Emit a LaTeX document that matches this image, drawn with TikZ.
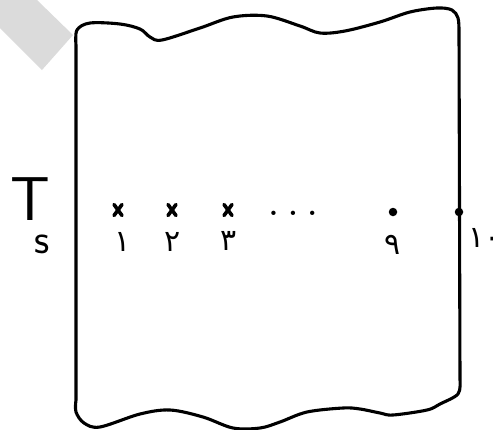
\documentclass[tikz,border=0pt]{standalone}
\usepackage{fontspec}
\usetikzlibrary{calc}
\newfontfamily\fadigits[Script=Arabic]{DejaVu Sans}
\begin{document}
\begin{tikzpicture}[x=1pt,y=-1pt,
  ink/.style={line width=3.1pt,line cap=round,line join=round,black},
  xmark/.style={line width=3.6pt,line cap=round},
  dotmark/.style={fill=black,circle,inner sep=0pt,minimum size=8.5pt},
  digit/.style={font=\fadigits\fontsize{30}{30}\selectfont,inner sep=0pt}]
\clip (0,0) rectangle (493,429);
\useasboundingbox (0,0) rectangle (493,429);
% grey corner band
\fill[gray!28] (0,0) -- (37,0) -- (73,35) -- (42,70) -- (0,28) -- cycle;
% sheet outline
\draw[ink] plot[smooth,tension=0.55] coordinates {(76,45) (77,30) (90,23) (120,24) (140,29) (150,37) (162,40) (200,28) (233,17) (267,16) (300,26) (320,33) (345,31) (380,22) (410,12) (437,8) (452,10) (458,18) (459,30)}
  -- (460,380)
  plot[smooth,tension=0.55] coordinates {(460,380) (458,394) (440,404) (427,410) (393,415) (380,413) (360,409) (343,408) (307,412) (280,422) (260,428) (233,428) (203,417) (170,410) (140,414) (100,427) (84,423) (76,412) (76,400)}
  -- (76,45);
% T_s label
\node[font=\sffamily\fontsize{62}{62}\selectfont,inner sep=0pt,anchor=base] (T) at (30,220) {T};
\node[font=\sffamily\fontsize{42}{42}\selectfont,inner sep=0pt,anchor=base] (s) at (42,253) {s};
% crosses
\foreach \n/\x in {1/118,2/172,3/228}{
  \coordinate (x\n) at (\x,210);
  \draw[xmark] ($(x\n)+(-4,-5.5)$) -- ($(x\n)+(4,5.5)$);
  \draw[xmark] ($(x\n)+(4,-5.5)$) -- ($(x\n)+(-4,5.5)$);
}
\node[digit] (l1) at (123,242) {۱};
\node[digit] (l2) at (173,242) {۲};
\node[digit] (l3) at (229,241) {۳};
\node[font=\bfseries\fontsize{30}{30}\selectfont,inner sep=0pt,anchor=base] (dots) at (293,215) {.\,\,.\,\,.};
\node[dotmark] (p9) at (393,212) {};
\node[digit] (l9) at (393,245) {۹};
\node[dotmark] (p10) at (459,212) {};
\node[digit,anchor=west] (l10) at (468,238) {۱۰};
\end{tikzpicture}
\end{document}
